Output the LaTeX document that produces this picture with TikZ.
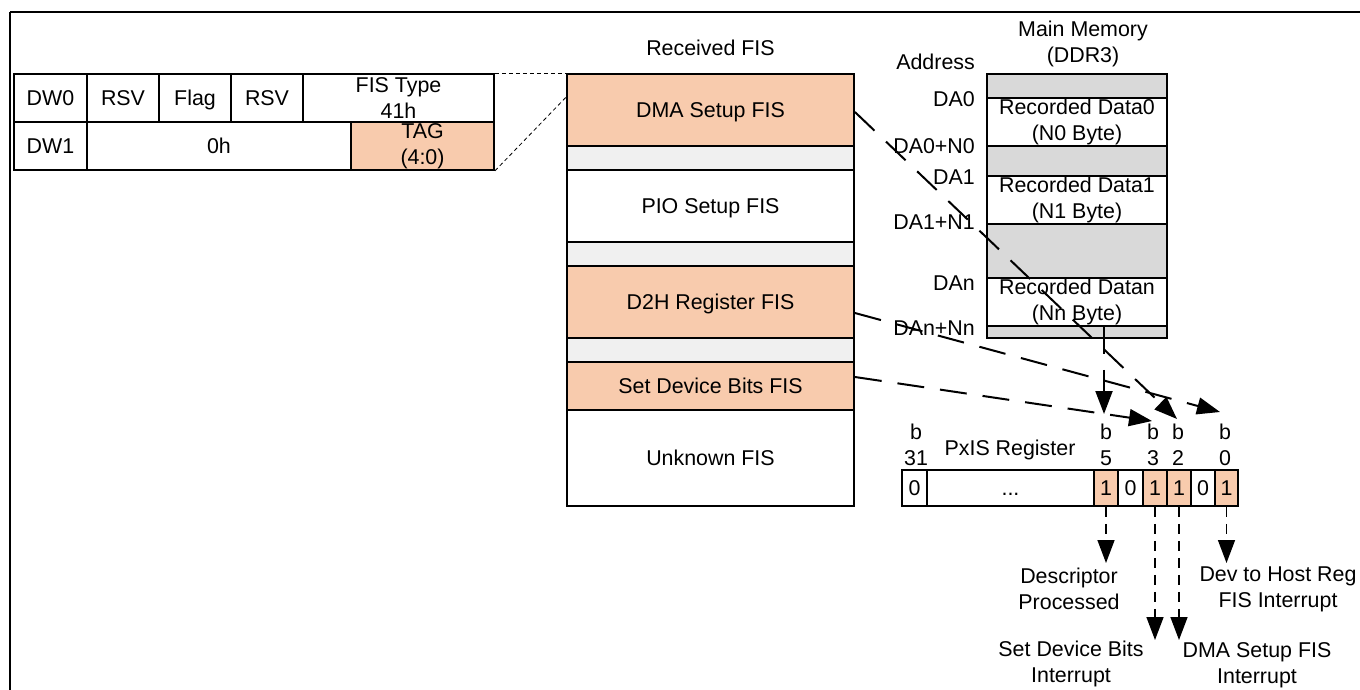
\documentclass[tikz,border=0pt]{standalone}
\usepackage{fontspec}
\setmainfont{Liberation Sans}
\usetikzlibrary{arrows.meta,calc}
\definecolor{fisorange}{HTML}{F8CBAD}
\definecolor{fisgap}{HTML}{F0F0F0}
\definecolor{memgray}{HTML}{D9D9D9}
\newcommand\fs{\fontsize{21.4pt}{26pt}\selectfont}
\tikzset{
  box/.style={draw=black, line width=1.8pt, rectangle, inner sep=0pt, align=center, font=\fs},
  one/.style={text height=19.9pt, text depth=4.5pt},
  hot/.style={box, fill=fisorange},
  gapbox/.style={box, fill=fisgap},
  membox/.style={box, fill=memgray},
  lbl/.style={inner sep=0pt, align=center, font=\fs},
  bigdash/.style={line width=2pt, dash pattern=on 27pt off 16pt, -{Triangle[length=23pt,width=17pt]}},
  smalldash/.style={line width=1.5pt, dash pattern=on 10pt off 7pt, -{Triangle[length=23pt,width=17pt]}},
  thindash/.style={line width=0.8pt, dash pattern=on 4pt off 3pt},
  frame/.style={line width=2.2pt}
}
\begin{document}
\begin{tikzpicture}[x=1pt,y=-1pt]
\useasboundingbox (0,0) rectangle (1360,690);
\fill[white] (0,0) rectangle (1360,690);
% frame
\draw[frame] (10,12) -- (1365,12);
\draw[frame] (10,12) -- (10,695);

% ---- DMA Setup FIS layout table
\node[box, one, minimum width=73pt, minimum height=48pt] (dw0) at (50.5,98) {DW0};
\node[box, one, minimum width=72pt, minimum height=48pt] (rsva) at (123,98) {RSV};
\node[box, one, minimum width=72pt, minimum height=48pt] (flag) at (195,98) {Flag};
\node[box, one, minimum width=72pt, minimum height=48pt] (rsvb) at (267,98) {RSV};
\node[box, minimum width=191pt, minimum height=48pt] (fistype) at (398.5,98) {FIS Type\\41h};
\node[box, one, minimum width=73pt, minimum height=48pt] (dw1) at (50.5,146) {DW1};
\node[box, one, minimum width=264pt, minimum height=48pt] (zeroh) at (219,146) {0h};
\node[hot, minimum width=143pt, minimum height=48pt] (tag) at (422.5,146) {TAG\\(4:0)};

% ---- Received FIS
\node[lbl] (rfis) at (710.5,48) {Received FIS};
\node[hot, one, minimum width=287pt, minimum height=72pt] (dma) at (710.5,110) {DMA Setup FIS};
\node[gapbox, minimum width=287pt, minimum height=24pt] (g1) at (710.5,158) {};
\node[box, one, minimum width=287pt, minimum height=72pt] (pio) at (710.5,206) {PIO Setup FIS};
\node[gapbox, minimum width=287pt, minimum height=24pt] (g2) at (710.5,254) {};
\node[hot, one, minimum width=287pt, minimum height=72pt] (d2h) at (710.5,302) {D2H Register FIS};
\node[gapbox, minimum width=287pt, minimum height=24pt] (g3) at (710.5,350) {};
\node[hot, one, minimum width=287pt, minimum height=48pt] (sdb) at (710.5,386) {Set Device Bits FIS};
\node[box, one, minimum width=287pt, minimum height=96pt] (unk) at (710.5,458) {Unknown FIS};

% table to DMA Setup FIS
\draw[thindash] (fistype.north east) -- (dma.north west);
\draw[thindash] (tag.south east) -- ([yshift=-24pt]dma.north west);

% ---- Main memory
\node[lbl] (mmtitle) at (1083,44) {Main Memory\\(DDR3)};
\node[lbl, anchor=east] (addr) at (975,62) {Address};
\node[membox, minimum width=180pt, minimum height=24pt] (m0) at (1077,86) {};
\node[box, minimum width=180pt, minimum height=48pt] (d0) at (1077,122) {Recorded Data0\\(N0 Byte)};
\node[membox, minimum width=180pt, minimum height=30pt] (m1) at (1077,161) {};
\node[box, minimum width=180pt, minimum height=48pt] (d1) at (1077,200) {Recorded Data1\\(N1 Byte)};
\node[membox, minimum width=180pt, minimum height=54pt] (m2) at (1077,251) {};
\node[box, minimum width=180pt, minimum height=48pt] (dn) at (1077,302) {Recorded Datan\\(Nn Byte)};
\node[membox, minimum width=180pt, minimum height=12pt] (m3) at (1077,332) {};

\node[lbl, anchor=east] (a0) at (975,99) {DA0};
\node[lbl, anchor=east] (a0n) at (975,146) {DA0+N0};
\node[lbl, anchor=east] (a1) at (975,177) {DA1};
\node[lbl, anchor=east] (a1n) at (975,222) {DA1+N1};
\node[lbl, anchor=east] (an) at (975,283) {DAn};
\node[lbl, anchor=east] (ann) at (975,328) {DAn+Nn};

% ---- PxIS register
\node[lbl] (pxis) at (1010,450) {PxIS Register};
\node[box, one, minimum width=25pt, minimum height=36pt] (r31) at (914.5,488) {0};
\node[box, one, minimum width=167pt, minimum height=36pt] (rdots) at (1010.5,488) {...};
\node[hot, one, minimum width=24pt, minimum height=36pt] (r5) at (1106,488) {1};
\node[box, one, minimum width=25pt, minimum height=36pt] (r4) at (1130.5,488) {0};
\node[hot, one, minimum width=24pt, minimum height=36pt] (r3) at (1155,488) {1};
\node[hot, one, minimum width=24pt, minimum height=36pt] (r2) at (1179,488) {1};
\node[box, one, minimum width=24pt, minimum height=36pt] (r1) at (1203,488) {0};
\node[hot, one, minimum width=23pt, minimum height=36pt] (r0) at (1226.5,488) {1};

\node[lbl] (b31) at (916,445) {b\\31};
\node[lbl] (b5) at (1106,445) {b\\5};
\node[lbl] (b3) at (1153,445) {b\\3};
\node[lbl] (b2) at (1178,445) {b\\2};
\node[lbl] (b0) at (1225,445) {b\\0};

% arrow tips above the bits
\coordinate (t5) at (1104,414);
\coordinate (t3) at (1152,421);
\coordinate (t2) at (1177,419);
\coordinate (t0) at (1220,412);

\draw[bigdash] ([yshift=-2pt]dma.east) -- (t2);
\draw[bigdash] ([yshift=-11pt]d2h.east) -- (t0);
\draw[bigdash] ([yshift=9pt]sdb.east) -- (t3);
\draw[bigdash] (t5 |- dn.south) -- (t5);

% ---- interrupt labels
\node[lbl] (ldesc) at (1069,589) {Descriptor\\Processed};
\node[lbl] (ldev) at (1278,589) {Dev to Host Reg\\FIS Interrupt};
\node[lbl] (lsdb) at (1071,664) {Set Device Bits\\Interrupt};
\node[lbl] (ldma) at (1257,665) {DMA Setup FIS\\Interrupt};

\coordinate (e5) at (1106,563);
\coordinate (e3) at (1155,640);
\coordinate (e2) at (1179,640);
\coordinate (e0) at (1226.5,563);

\draw[smalldash] (r5.south) -- (e5);
\draw[smalldash] (r3.south) -- (e3);
\draw[smalldash] (r2.south) -- (e2);
\draw[smalldash] (r0.south) -- (e0);
\end{tikzpicture}
\end{document}
